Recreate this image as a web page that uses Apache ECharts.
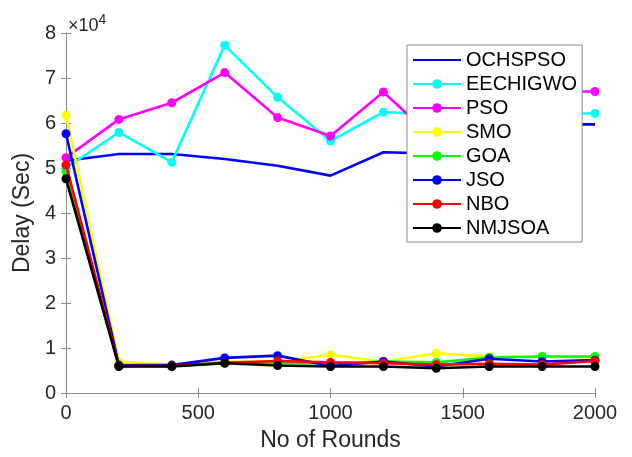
<!DOCTYPE html>
<html>
<head>
<meta charset="utf-8">
<script src="https://cdn.jsdelivr.net/npm/echarts@6/dist/echarts.min.js"></script>
<style>html,body{margin:0;padding:0;background:#fff}#c{width:632px;height:457px}</style>
</head>
<body>
<div id="c"></div>
<script>
const rounds = [0, 200, 400, 600, 800, 1000, 1200, 1400, 1600, 1800, 2000];
const xTicks = [0, 500, 1000, 1500, 2000];
const yTicks = [0, 1, 2, 3, 4, 5, 6, 7, 8];
const seriesNames = ['OCHSPSO', 'EECHIGWO', 'PSO', 'SMO', 'GOA', 'JSO', 'NBO', 'NMJSOA'];
const ochspso  = [51600, 53100, 53100, 52000, 50500, 48300, 53500, 53200, 58000, 59700, 59700];
const eechigwo = [50000, 57900, 51300, 77300, 65700, 56000, 62400, 62000, 62100, 62100, 62100];
const pso      = [52300, 60800, 64500, 71200, 61200, 57100, 66900, 56000, 62000, 67000, 67000];
const smo      = [61700, 7000, 6300, 7000, 7000, 8500, 7000, 8800, 8100, 8000, 8000];
const goa      = [49200, 6000, 6000, 6800, 6600, 6600, 7000, 6800, 7900, 8100, 8100];
const jso      = [57600, 6200, 6200, 7800, 8300, 6000, 7000, 5900, 7600, 7000, 7300];
const nbo      = [50700, 6000, 6000, 6700, 7100, 6800, 6600, 6300, 6500, 6300, 7100];
const nmjsoa   = [47600, 5900, 5900, 6600, 6100, 5900, 5900, 5500, 5900, 5900, 5900];
const yScale = 10000;

const values = [ochspso, eechigwo, pso, smo, goa, jso, nbo, nmjsoa];
const colors = ['#0000ff', '#00ffff', '#ff00ff', '#ffff00', '#00ff00', '#0000ff', '#ff0000', '#000000'];
const font = 'Arial, "Liberation Sans", sans-serif';
const axisGray = '#8c8c8c';
const textColor = '#262626';

const chart = echarts.init(document.getElementById('c'), null, {renderer: 'canvas'});
const series = values.map((v, i) => ({
  name: seriesNames[i],
  type: 'line',
  data: rounds.map((r, k) => [r, v[k]]),
  symbol: i === 0 ? 'none' : 'circle',
  symbolSize: 9,
  showSymbol: i !== 0,
  lineStyle: {width: 2.6, color: colors[i]},
  itemStyle: {color: colors[i]},
  emphasis: {disabled: true},
  animation: false,
  z: 2 + i
}));

chart.setOption({
  animation: false,
  grid: {left: 66, right: 37, top: 33, bottom: 61, containLabel: false},
  xAxis: [{
    type: 'value', min: 0, max: 2000, interval: 500,
    name: 'No of Rounds', nameLocation: 'middle', nameGap: 36,
    nameTextStyle: {fontFamily: font, fontSize: 23, color: textColor},
    axisLine: {show: true, lineStyle: {color: axisGray, width: 1}},
    axisTick: {show: true, inside: true, length: 5, lineStyle: {color: axisGray}},
    axisLabel: {fontFamily: font, fontSize: 20, color: textColor, margin: 10,
      formatter: v => xTicks.includes(v) ? String(v) : ''},
    splitLine: {show: false}
  }, {
    type: 'value', min: 0, max: 2000, interval: 500, position: 'top',
    axisLine: {show: true, lineStyle: {color: axisGray, width: 1}},
    axisTick: {show: true, inside: true, length: 5, lineStyle: {color: axisGray}},
    axisLabel: {show: false}, splitLine: {show: false}
  }],
  yAxis: [{
    type: 'value', min: 0, max: 80000, interval: 10000,
    name: 'Delay (Sec)', nameLocation: 'middle', nameGap: 27,
    nameTextStyle: {fontFamily: font, fontSize: 23, color: textColor},
    axisLine: {show: true, lineStyle: {color: axisGray, width: 1}},
    axisTick: {show: true, inside: true, length: 5, lineStyle: {color: axisGray}},
    axisLabel: {fontFamily: font, fontSize: 20, color: textColor, margin: 10,
      formatter: v => { const t = v / yScale; return yTicks.includes(t) ? String(t) : ''; }},
    splitLine: {show: false}
  }, {
    type: 'value', min: 0, max: 80000, interval: 10000, position: 'right',
    axisLine: {show: true, lineStyle: {color: axisGray, width: 1}},
    axisTick: {show: true, inside: true, length: 5, lineStyle: {color: axisGray}},
    axisLabel: {show: false}, splitLine: {show: false}
  }],
  legend: {
    data: seriesNames.map((n, i) => i === 0 ? {name: n, itemStyle: {opacity: 0}} : {name: n}),
    orient: 'vertical',
    left: 407, top: 45,
    backgroundColor: '#ffffff',
    borderColor: '#8c8c8c', borderWidth: 1, borderRadius: 0,
    padding: [5, 5, 4, 5],
    itemWidth: 48, itemHeight: 12, itemGap: 4,
    textStyle: {fontFamily: font, fontSize: 20, color: '#000', lineHeight: 20},
    selectedMode: false,
    z: 20
  },
  graphic: [{
    type: 'text', left: 68, top: 13,
    style: {
      text: '{a|×10}{b|4}',
      rich: {
        a: {fontFamily: font, fontSize: 18, fill: textColor, verticalAlign: 'bottom'},
        b: {fontFamily: font, fontSize: 14, fill: textColor, verticalAlign: 'top', padding: [0, 0, 8, 0]}
      }
    }
  }],
  series: series
});
</script>
</body>
</html>
